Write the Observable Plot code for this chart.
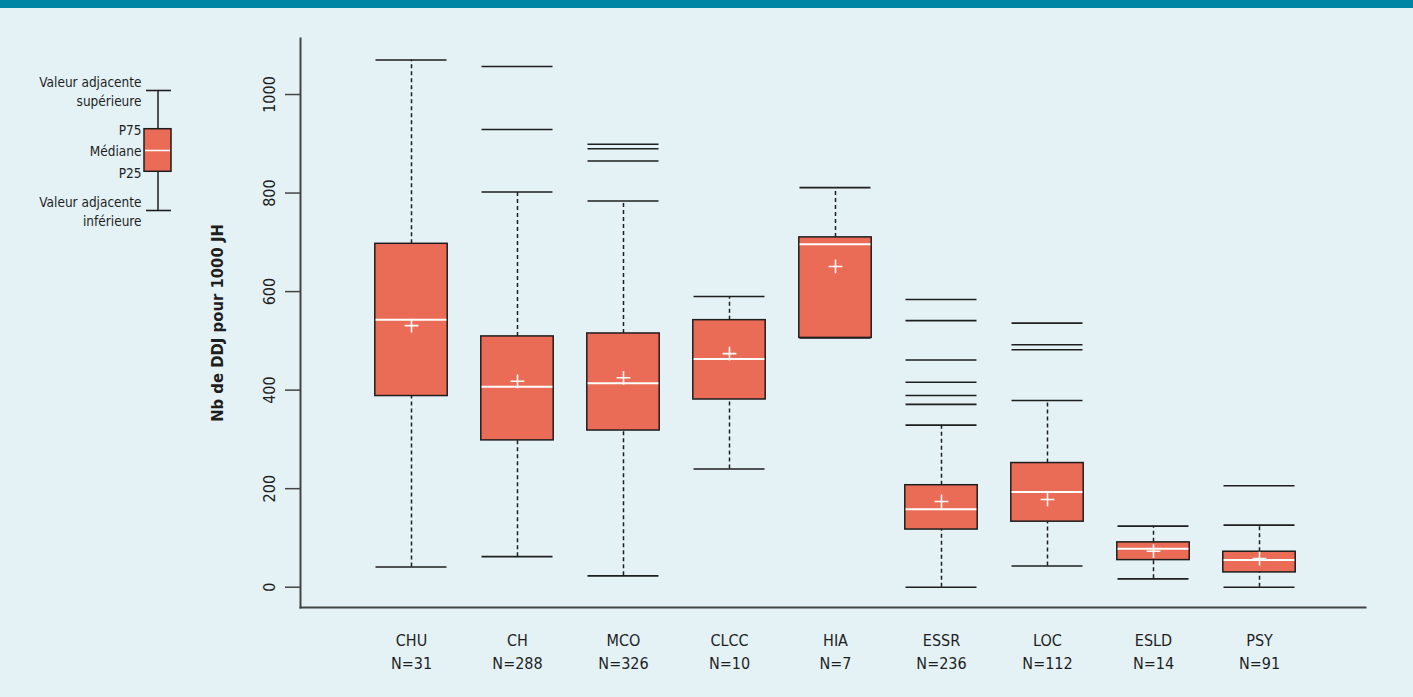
<!DOCTYPE html>
<html>
<head>
<meta charset="utf-8">
<script src="https://cdn.jsdelivr.net/npm/d3@7"></script>
<script src="https://cdn.jsdelivr.net/npm/@observablehq/plot@0.6"></script>
<style>
  html, body { margin: 0; padding: 0; background: #e4f2f6; overflow: hidden; }
  #banner { height: 8px; background: #0085a5; }
  #wrap { position: relative; width: 1413px; height: 689px; }
  #wrap svg { position: absolute; top: 0; left: 0; background: transparent; }
</style>
</head>
<body>
<div id="banner"></div>
<div id="wrap"></div>
<script>
// ---- Data ----
const categories = ["CHU", "CH", "MCO", "CLCC", "HIA", "ESSR", "LOC", "ESLD", "PSY"];
const counts     = [31, 288, 326, 10, 7, 236, 112, 14, 91];
const lowerAdj   = [41, 62, 23, 240, 506, 0, 43, 17, 0];
const p25        = [388, 298, 318, 381, 506, 117, 133, 55, 30];
const medians    = [543, 407, 414, 463, 696, 158, 193, 78, 55];
const p75        = [697, 509, 515, 542, 710, 207, 252, 91, 72];
const upperAdj   = [1070, 802, 784, 590, 811, 329, 379, 124, 126];
const means      = [531, 418, 425, 474, 651, 174, 178, 73, 58];
const outliers   = [[], [1057, 929], [899, 890, 865], [], [], [584, 541, 461, 416, 389, 371], [536, 492, 482], [], [206]];
const yTicks     = [0, 200, 400, 600, 800, 1000];
const yTitle     = "Nb de DDJ pour 1000 JH";

// Legend (schematic box)
const legendValues = [3.1, 2.1, 1.55, 1, 0];
const legendLabels = ["Valeur adjacente\nsupérieure", "P75", "Médiane", "P25", "Valeur adjacente\ninférieure"];

// ---- Build tables ----
const stats = categories.map((c, i) => ({
  cat: c, n: counts[i], lo: lowerAdj[i], q1: p25[i], med: medians[i], q3: p75[i], hi: upperAdj[i], mean: means[i]
}));
const outl = categories.flatMap((c, i) => outliers[i].map(v => ({cat: c, v})));

const FONT = '"Liberation Sans Narrow", "DejaVu Sans Condensed", "Roboto Condensed", "Arial Narrow", sans-serif';
const BOX = "#ea6c57";
const INK = "#1e1e1e";
const AXIS = "#444";

const main = Plot.plot({
  width: 1413,
  height: 689,
  marginLeft: 300,
  marginRight: 48,
  marginTop: 30,
  marginBottom: 90,
  style: {background: "transparent", fontFamily: FONT, fontSize: "16px", color: INK},
  x: {domain: categories, range: [357, 1312.6], padding: 0, axis: null},
  y: {domain: [-41.2, 1113.7], axis: null},
  marks: [
    // axis lines (L-shaped box)
    Plot.frame({anchor: "left", stroke: AXIS, strokeWidth: 2}),
    Plot.frame({anchor: "bottom", stroke: AXIS, strokeWidth: 2}),
    Plot.axisY({ticks: yTicks, tickSize: 15, tickFormat: () => "", stroke: AXIS, strokeWidth: 1.5}),
    Plot.text(yTicks, {y: d => d, text: d => String(d), frameAnchor: "left", dx: -31, rotate: -90,
      textAnchor: "middle", lineAnchor: "middle", fontSize: 16, fill: INK}),
    Plot.text([yTitle], {text: d => d, frameAnchor: "left", dx: -83, rotate: -90,
      textAnchor: "middle", lineAnchor: "middle", fontSize: 16.5, fontWeight: "bold", fill: INK}),
    // whiskers
    Plot.ruleX(stats, {x: "cat", y1: "q3", y2: "hi", stroke: INK, strokeWidth: 1.5, strokeDasharray: "4,3"}),
    Plot.ruleX(stats, {x: "cat", y1: "lo", y2: "q1", stroke: INK, strokeWidth: 1.5, strokeDasharray: "4,3"}),
    // caps
    Plot.tickY(stats, {x: "cat", y: "hi", stroke: INK, strokeWidth: 1.6, insetLeft: 17.5, insetRight: 17.5}),
    Plot.tickY(stats, {x: "cat", y: "lo", stroke: INK, strokeWidth: 1.6, insetLeft: 17.5, insetRight: 17.5}),
    // outliers
    Plot.tickY(outl, {x: "cat", y: "v", stroke: INK, strokeWidth: 1.6, insetLeft: 17.5, insetRight: 17.5}),
    // boxes
    Plot.barY(stats, {x: "cat", y1: "q1", y2: "q3", fill: BOX, stroke: INK, strokeWidth: 1.5, insetLeft: 16.8, insetRight: 16.8}),
    // medians
    Plot.tickY(stats, {x: "cat", y: "med", stroke: "white", strokeWidth: 2, insetLeft: 17.6, insetRight: 17.6}),
    // means
    Plot.dot(stats, {x: "cat", y: "mean", symbol: "plus", r: 4.5, stroke: "white", strokeWidth: 1.6}),
    // category labels
    Plot.text(stats, {x: "cat", text: d => `${d.cat}\nN=${d.n}`, frameAnchor: "bottom", lineAnchor: "top",
      dy: 23, lineHeight: 1.39, fontSize: 16, fill: INK})
  ]
});

const legend = Plot.plot({
  width: 300,
  height: 240,
  marginLeft: 144,
  marginRight: 129,
  marginTop: 82,
  marginBottom: 38,
  style: {background: "transparent", fontFamily: FONT, fontSize: "14px", color: INK},
  x: {domain: ["legend"], padding: 0, axis: null},
  y: {domain: [0, 3.1], axis: null},
  marks: [
    Plot.ruleX(["legend"], {x: d => d, y1: legendValues[4], y2: legendValues[0], stroke: INK, strokeWidth: 1.5}),
    Plot.tickY([legendValues[0], legendValues[4]], {x: () => "legend", y: d => d, stroke: INK, strokeWidth: 1.6, insetLeft: 2}),
    Plot.barY(["legend"], {x: d => d, y1: legendValues[3], y2: legendValues[1], fill: BOX, stroke: INK, strokeWidth: 1.5}),
    Plot.tickY([legendValues[2]], {x: () => "legend", y: d => d, stroke: "white", strokeWidth: 1.5, insetLeft: 1, insetRight: 1}),
    Plot.text(legendLabels, {y: (d, i) => legendValues[i], text: d => d, frameAnchor: "left", dx: -3,
      textAnchor: "end", lineAnchor: "middle", lineHeight: 1.36, fontSize: 13.5, fill: INK})
  ]
});

const wrap = document.getElementById("wrap");
wrap.appendChild(main);
wrap.appendChild(legend);
</script>
</body>
</html>
